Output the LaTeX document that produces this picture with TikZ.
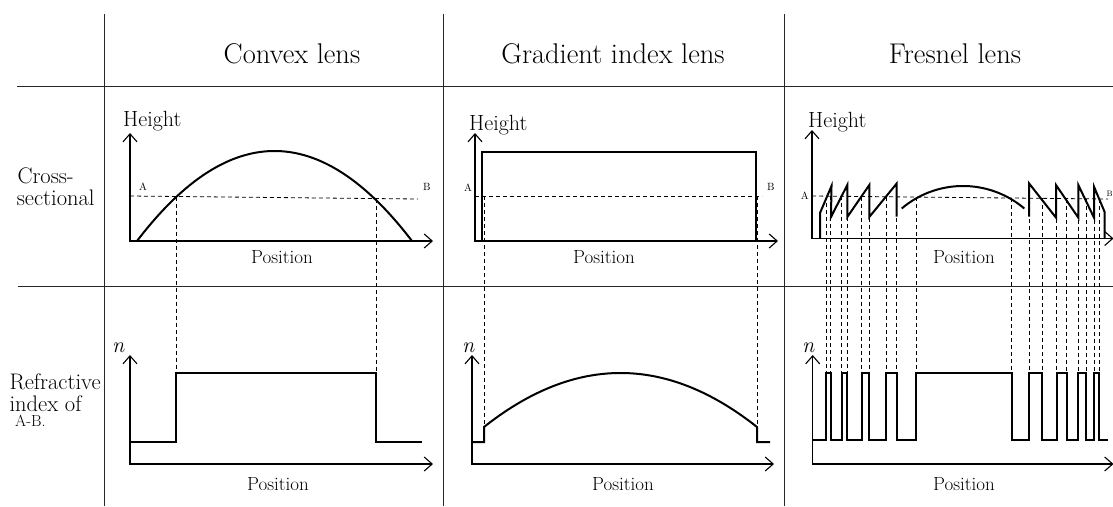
\documentclass[tikz,border=0pt]{standalone}
\usepackage{fontspec}
\usetikzlibrary{arrows.meta}
\begin{document}
\begin{tikzpicture}[x=1pt,y=-1pt,
  grid/.style={line width=0.9pt, black!85},
  axes/.style={line width=1.1pt,
    {Straight Barb[length=8pt,width=14pt,line width=1.1pt]}-{Straight Barb[length=8pt,width=14pt,line width=1.1pt]}},
  prof/.style={line width=2pt, line join=miter},
  guide/.style={line width=0.8pt, dash pattern=on 4pt off 3pt},
  ttl/.style={font=\fontsize{28.5}{32}\selectfont, anchor=base, inner sep=0pt},
  rowlab/.style={font=\fontsize{22.5}{26}\selectfont, anchor=base west, inner sep=0pt},
  hlab/.style={font=\fontsize{22}{25}\selectfont, anchor=base west, inner sep=0pt},
  plab/.style={font=\fontsize{19}{22}\selectfont, anchor=base, inner sep=0pt},
  nlab/.style={font=\fontsize{22}{26}\selectfont\itshape, anchor=base west, inner sep=0pt},
  ablab/.style={font=\fontsize{10.5}{12}\selectfont, anchor=base west, inner sep=0pt}
]
\useasboundingbox (0,0) rectangle (1113,506);
% grid
\draw[grid] (17,86) -- (1113,86);
\draw[grid] (18,286) -- (1113,286);
\draw[grid] (104,14) -- (104,506);
\draw[grid] (443,14) -- (443,506);
\draw[grid] (784,14) -- (784,506);
% titles
\node[ttl] (t1) at (292,63.3) {Convex lens};
\node[ttl] (t2) at (613,63.3) {Gradient index lens};
\node[ttl] (t3) at (955,63.3) {Fresnel lens};
% row labels
\node[rowlab] (r1a) at (17.3,183.3) {Cross-};
\node[rowlab] (r1b) at (16.7,205) {sectional};
\node[rowlab] (r2a) at (9.3,389.3) {Refractive};
\node[rowlab] (r2b) at (9.3,411.7) {index of};
\node[rowlab, font=\fontsize{16}{18}\selectfont] (r2c) at (15,426.7) {A-B.};

% ===== Panel 1 top
\draw[axes] (130,133) -- (130,241) -- (433,241);
\draw[prof] plot[domain=137:412,samples=90] (\x,{241-90*(1-((\x-274.5)/137.5)*((\x-274.5)/137.5))});
\draw[guide] (130,196) -- (418,199);
\draw[guide] (176,196.5) -- (176,373);
\draw[guide] (376,198.6) -- (376,373);
\node[ablab] (a1) at (139,190.7) {A};
\node[ablab] (b1) at (423,190.7) {B};
\node[hlab] (h1) at (123,126) {Height};
\node[plab] (p1) at (282,263.7) {Position};
% Panel 1 bottom
\draw[axes] (130,355) -- (130,464) -- (433,464);
\draw[prof] (130,442) -- (176,442) -- (176,373) -- (376,373) -- (376,442) -- (422,442);
\node[nlab] (n1) at (112,352.7) {n};
\node[plab] (q1) at (278,490) {Position};

% ===== Panel 2 top
\draw[axes] (475,133) -- (475,241) -- (778,241);
\draw[prof] (482,241) -- (482,152) -- (756,152) -- (756,241);
\draw[guide] (475,196) -- (762,196);
\draw[guide] (484,196) -- (484,427);
\draw[guide] (757,196) -- (757,427);
\node[ablab] (a2) at (464,191.7) {A};
\node[ablab] (b2) at (767,190) {B};
\node[hlab] (h2) at (469,130) {Height};
\node[plab] (p2) at (604,263.7) {Position};
% Panel 2 bottom
\draw[axes] (472,355) -- (472,464) -- (774,464);
\draw[prof] (472,442) -- (484,442) -- plot[domain=484:757,samples=90] (\x,{427-54*(1-((\x-620.5)/136.5)*((\x-620.5)/136.5))}) -- (757,442) -- (770,442);
\node[nlab] (n2) at (462,352.7) {n};
\node[plab] (q2) at (623,490) {Position};

% ===== Panel 3 top
\draw[axes] (812,130) -- (812,238.5) -- (1113.5,238.5);
\draw[prof] (820,238.5) -- (820,213) -- (831.5,186) -- (831,217) -- (847.3,185) -- (847.3,217)
  -- (869.3,185) -- (869.3,217) -- (896.7,183.5) -- (896.7,216.5);
\draw[prof] plot[domain=901.7:1024.3,samples=90] (\x,{186+94.75-sqrt(94.75*94.75-(\x-963)*(\x-963))});
\draw[prof] (1029,216.7) -- (1029,183.3) -- (1056,217.7) -- (1056,185) -- (1078.3,217.7)
  -- (1078.3,185) -- (1094,217.7) -- (1094,186.7) -- (1104.5,211.7) -- (1104.5,238.5);
\draw[guide] (812,196) -- (1108,199);
\foreach \xx in {826,830.7,841.7,847.3,861.7,869.3,886,896.7,916,1011.7,1029,1042.3,1056.7,1066.7,1078.3,1086,1094,1099.3}
  \draw[guide] (\xx,{196+3*(\xx-812)/296}) -- (\xx,373);
\node[ablab] (a3) at (800.7,199.3) {A};
\node[ablab, font=\fontsize{8}{9}\selectfont] (b3) at (1106.3,196.5) {B};
\node[hlab] (h3) at (808,127) {Height};
\node[plab] (p3) at (964,263.7) {Position};
% Panel 3 bottom
\draw[axes] (812.7,355) -- (812.7,464) -- (1113.5,464);
\draw[prof] (812.7,440) -- (826,440) -- (826,373) -- (830.7,373) -- (830.7,440) -- (841.7,440)
  -- (841.7,373) -- (847.3,373) -- (847.3,440) -- (861.7,440) -- (861.7,373) -- (869.3,373)
  -- (869.3,440) -- (886,440) -- (886,373) -- (896.7,373) -- (896.7,440) -- (916,440)
  -- (916,373) -- (1011.7,373) -- (1011.7,440) -- (1029,440) -- (1029,373) -- (1042.3,373)
  -- (1042.3,440) -- (1056.7,440) -- (1056.7,373) -- (1066.7,373) -- (1066.7,440) -- (1078.3,440)
  -- (1078.3,373) -- (1086,373) -- (1086,440) -- (1094,440) -- (1094,373) -- (1099.3,373)
  -- (1099.3,440) -- (1108.3,440);
\node[nlab] (n3) at (802,352.7) {n};
\node[plab] (q3) at (964,490) {Position};
\end{tikzpicture}
\end{document}
